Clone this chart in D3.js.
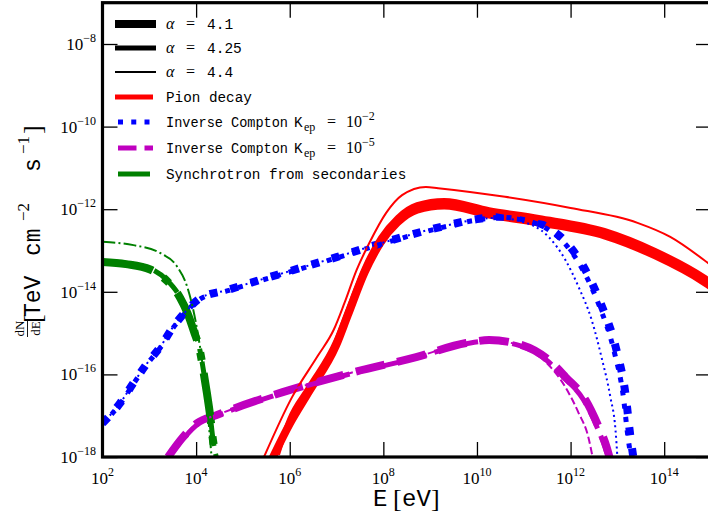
<!DOCTYPE html>
<html>
<head>
<meta charset="utf-8">
<script src="https://cdn.jsdelivr.net/npm/d3@7"></script>
<style>
  body { margin: 0; background: #fff; }
  svg { display: block; }
</style>
</head>
<body>
<svg id="chart" width="708" height="516"></svg>
<script>
// values are [log10 E (eV), log10 dN/dE (TeV cm^-2 s^-1)]

// pion decay
var pion41 = [[5.62,-18.06],[6.0,-17.2],[6.40,-16.44],[6.99,-15.30],[7.24,-14.57],[7.60,-13.53],
  [7.94,-12.81],[8.30,-12.32],[8.72,-12.01],[9.30,-11.91],[10.26,-12.13],[11.32,-12.32],
  [12.74,-12.64],[13.81,-13.12],[14.87,-13.77],[15.1,-13.95]];
var pion425 = [[5.74,-17.94],[6.0,-17.08],[6.40,-16.32],[6.99,-15.18],[7.24,-14.45],[7.60,-13.41],
  [7.94,-12.69],[8.30,-12.20],[8.72,-11.89],[9.30,-11.79],[10.26,-12.01],[11.32,-12.20],
  [12.74,-12.52],[13.81,-13.00],[14.87,-13.65],[15.1,-13.83]];
var pion44 = [[5.45,-18.0],[6.05,-16.55],[6.60,-15.55],[6.94,-14.92],[7.17,-14.27],[7.43,-13.47],
  [7.70,-12.82],[8.06,-12.09],[8.40,-11.66],[8.91,-11.46],[9.17,-11.49],[10.60,-11.70],
  [12.0,-11.97],[13.43,-12.33],[14.13,-12.67],[14.85,-13.23],[15.1,-13.45]];

// inverse Compton, K_ep = 1e-2
var icHi41 = [[2.0,-17.18],[2.38,-16.69],[2.66,-16.21],[2.96,-15.72],[3.23,-15.34],[3.51,-14.85],
  [3.81,-14.44],[4.09,-14.15],[4.66,-13.96],[5.40,-13.70],[6.0,-13.50],[7.0,-13.16],[7.85,-12.86],
  [9.26,-12.42],[10.0,-12.24],[10.50,-12.18],[10.80,-12.19],[11.15,-12.27],[11.60,-12.50],[11.96,-12.87],
  [12.23,-13.30],[12.64,-14.27],[12.98,-15.41],[13.17,-16.45],[13.28,-17.52],[13.34,-18.0]];
var icHi425 = [[2.0,-17.2],[2.38,-16.71],[2.66,-16.23],[2.96,-15.74],[3.23,-15.36],[3.51,-14.87],
  [3.81,-14.46],[4.09,-14.17],[4.66,-13.98],[5.40,-13.72],[6.0,-13.52],[7.0,-13.18],[7.85,-12.88],
  [9.26,-12.44],[10.0,-12.26],[10.48,-12.20],[10.77,-12.21],[11.12,-12.29],[11.57,-12.53],[11.93,-12.90],
  [12.19,-13.33],[12.60,-14.30],[12.93,-15.44],[13.12,-16.48],[13.23,-17.55],[13.29,-18.0]];
var icHi44 = [[2.0,-17.18],[2.38,-16.69],[2.66,-16.21],[2.96,-15.72],[3.23,-15.34],[3.51,-14.85],
  [3.81,-14.44],[4.09,-14.15],[4.66,-13.96],[5.40,-13.70],[6.0,-13.50],[7.0,-13.16],[7.85,-12.86],
  [9.26,-12.42],[10.0,-12.25],[10.45,-12.21],[10.89,-12.28],[11.53,-12.67],[11.89,-13.23],[12.17,-13.88],
  [12.45,-14.68],[12.66,-15.58],[12.85,-16.55],[12.96,-17.35],[13.0,-18.0]];

// inverse Compton, K_ep = 1e-5
var icLo41 = [[3.40,-18.0],[3.72,-17.52],[4.02,-17.18],[4.45,-16.98],[5.85,-16.43],[7.28,-15.97],
  [8.70,-15.58],[9.77,-15.24],[10.26,-15.17],[10.96,-15.29],[11.53,-15.65],[11.89,-16.06],
  [12.32,-16.62],[12.60,-17.27],[12.77,-17.76],[12.83,-18.0]];
var icLo425 = [[3.42,-18.0],[3.74,-17.54],[4.04,-17.2],[4.45,-17.0],[5.85,-16.45],[7.28,-15.99],
  [8.70,-15.60],[9.77,-15.26],[10.26,-15.19],[10.93,-15.31],[11.50,-15.67],[11.86,-16.08],
  [12.29,-16.64],[12.57,-17.29],[12.74,-17.78],[12.80,-18.0]];
var icLo44 = [[3.40,-18.0],[3.72,-17.52],[4.02,-17.18],[4.45,-16.98],[5.85,-16.43],[7.28,-15.97],
  [8.70,-15.58],[9.77,-15.24],[10.26,-15.18],[11.04,-15.34],[11.47,-15.70],[11.89,-16.31],
  [12.17,-16.93],[12.38,-17.52],[12.47,-18.0]];

// synchrotron from secondaries
var syn41 = [[2.0,-13.28],[2.5,-13.33],[3.02,-13.46],[3.38,-13.74],[3.66,-14.15],[3.81,-14.5],
  [3.95,-14.95],[4.09,-15.48],[4.16,-15.95],[4.23,-16.45],[4.30,-17.0],[4.36,-17.59],[4.43,-18.0]];
var syn425 = [[2.0,-13.26],[2.5,-13.31],[3.02,-13.44],[3.38,-13.72],[3.66,-14.13],[3.81,-14.48],
  [3.95,-14.93],[4.09,-15.46],[4.16,-15.93],[4.23,-16.43],[4.30,-16.98],[4.36,-17.57],[4.43,-18.0]];
var syn44 = [[2.0,-12.79],[2.66,-12.87],[3.23,-13.06],[3.6,-13.4],[3.81,-13.88],[3.94,-14.44],
  [4.05,-15.1],[4.13,-15.7],[4.2,-16.4],[4.27,-17.2],[4.33,-18.0]];

var xTickExp = [2, 4, 6, 8, 10, 12, 14];
var yTickExp = [-18, -16, -14, -12, -10, -8];
var alphaLabels = ["4.1", "4.25", "4.4"];

var svg = d3.select("#chart");
// note: "top" is taken by window.top, so use prefixed names
var pLeft = 102.5, pRight = 711, pTop = 2.7, pBottom = 457;

var x = d3.scaleLog().domain([1e2, 1e15]).range([pLeft, pRight]);
var y = d3.scaleLog().domain([1e-18, 1e-7]).range([pBottom, pTop]);

svg.append("clipPath").attr("id", "plotclip")
  .append("rect").attr("x", pLeft).attr("y", pTop)
  .attr("width", pRight - pLeft).attr("height", pBottom - pTop);

var line = d3.line()
  .x(function(d){ return x(Math.pow(10, d[0])); })
  .y(function(d){ return y(Math.pow(10, d[1])); })
  .curve(d3.curveMonotoneX);

// dash patterns scaled with line width, like matplotlib
function dashes(style, w){
  if (style == "dotted") return [w, 1.65*w].join(",");
  if (style == "dashed") return [3.7*w, 1.6*w].join(",");
  if (style == "dashdot") return [6.4*w, 1.6*w, w, 1.6*w].join(",");
  return null;
}

var widths = [8, 5, 2];
var groups = [
  [pion41, icHi41, icLo41, syn41],
  [pion425, icHi425, icLo425, syn425],
  [pion44, icHi44, icLo44, syn44]
];
var colors = ["#ff0000", "#0000ff", "#bf00bf", "#008000"];
var styles = ["solid", "dotted", "dashed", "dashdot"];

var plot = svg.append("g").attr("clip-path", "url(#plotclip)");
groups.forEach(function(set, i){
  set.forEach(function(data, j){
    plot.append("path")
      .datum(data)
      .attr("d", line)
      .attr("fill", "none")
      .attr("stroke", colors[j])
      .attr("stroke-width", widths[i])
      .attr("stroke-dasharray", dashes(styles[j], widths[i]))
      .attr("stroke-linecap", "butt")
      .attr("stroke-linejoin", "round");
  });
});

// ticks, pointing inward on all four sides
var xt = xTickExp.map(function(e){ return Math.pow(10, e); });
var yt = yTickExp.map(function(e){ return Math.pow(10, e); });
var tl = 15;
function styleAxis(g){
  g.select(".domain").remove();
  g.selectAll("line").attr("stroke", "#000").attr("stroke-width", 1.3);
  g.selectAll("text").remove();
}
svg.append("g").attr("transform", "translate(0," + pBottom + ")")
  .call(d3.axisBottom(x).tickValues(xt).tickSize(-tl)).call(styleAxis);
svg.append("g").attr("transform", "translate(0," + pTop + ")")
  .call(d3.axisTop(x).tickValues(xt).tickSize(-tl)).call(styleAxis);
svg.append("g").attr("transform", "translate(" + pLeft + ",0)")
  .call(d3.axisLeft(y).tickValues(yt).tickSize(-tl)).call(styleAxis);
svg.append("g").attr("transform", "translate(" + pRight + ",0)")
  .call(d3.axisRight(y).tickValues(yt).tickSize(-tl)).call(styleAxis);

// spines
svg.append("rect")
  .attr("x", pLeft).attr("y", pTop)
  .attr("width", pRight - pLeft).attr("height", pBottom - pTop)
  .attr("fill", "none").attr("stroke", "#000").attr("stroke-width", 3.2);

// tick labels
var serif = "'Liberation Serif', 'DejaVu Serif', serif";
var mono = "'Liberation Mono', 'DejaVu Sans Mono', monospace";

xTickExp.forEach(function(e){
  var t = svg.append("text")
    .attr("x", x(Math.pow(10, e))).attr("y", 484)
    .attr("text-anchor", "middle")
    .attr("font-family", serif).attr("font-size", 17);
  t.append("tspan").text("10");
  t.append("tspan").attr("dy", -8).attr("font-size", 12).text(String(e));
});
yTickExp.forEach(function(e){
  var t = svg.append("text")
    .attr("x", 96).attr("y", y(Math.pow(10, e)) + 6)
    .attr("text-anchor", "end")
    .attr("font-family", serif).attr("font-size", 17);
  t.append("tspan").text("10");
  t.append("tspan").attr("dy", -8).attr("font-size", 12).text("\u2212" + Math.abs(e));
});

// x axis label
svg.append("text").attr("x", 373).attr("y", 506)
  .attr("font-family", mono).attr("font-size", 24).text("E");
svg.append("text").attr("x", 393).attr("y", 507)
  .attr("font-family", serif).attr("font-size", 26).text("[");
svg.append("text").attr("x", 402).attr("y", 506)
  .attr("font-family", mono).attr("font-size", 24).text("eV");
svg.append("text").attr("x", 431).attr("y", 507)
  .attr("font-family", serif).attr("font-size", 26).text("]");

// y axis label
var yl = svg.append("g").attr("transform", "translate(40,232) rotate(-90)");
yl.append("text").attr("x", -96.5).attr("y", -16).attr("text-anchor", "middle")
  .attr("font-family", serif).attr("font-size", 13).text("dN");
yl.append("line").attr("x1", -105).attr("x2", -88).attr("y1", -12.5).attr("y2", -12.5)
  .attr("stroke", "#000").attr("stroke-width", 0.9);
yl.append("text").attr("x", -96.5).attr("y", 0).attr("text-anchor", "middle")
  .attr("font-family", serif).attr("font-size", 13).text("dE");
yl.append("text").attr("x", -91).attr("y", 1).attr("font-family", serif).attr("font-size", 26).text("[");
yl.append("text").attr("x", -85).attr("y", 0).attr("font-family", mono).attr("font-size", 23).text("TeV");
yl.append("text").attr("x", -24).attr("y", 0).attr("font-family", mono).attr("font-size", 23).text("cm");
yl.append("text").attr("x", 11).attr("y", -11).attr("font-family", serif).attr("font-size", 17).text("\u22122");
yl.append("text").attr("x", 60).attr("y", 0).attr("font-family", mono).attr("font-size", 23).text("s");
yl.append("text").attr("x", 78).attr("y", -11).attr("font-family", serif).attr("font-size", 17).text("\u22121");
yl.append("text").attr("x", 98).attr("y", 1).attr("font-family", serif).attr("font-size", 26).text("]");

// legend
var legendRows = [24, 48, 72, 97, 122, 148, 174];
var lx1 = 115, lx2 = 156, tx = 166;
alphaLabels.forEach(function(a, i){
  var ry = legendRows[i];
  svg.append("line").attr("x1", lx1).attr("x2", lx2).attr("y1", ry).attr("y2", ry)
    .attr("stroke", "#000").attr("stroke-width", widths[i]);
  svg.append("text").attr("x", tx).attr("y", ry + 5)
    .attr("font-family", serif).attr("font-style", "italic").attr("font-size", 16).text("\u03b1");
  svg.append("text").attr("x", 186).attr("y", ry + 5)
    .attr("font-family", serif).attr("font-size", 16).text("=");
  svg.append("text").attr("x", 207).attr("y", ry + 5)
    .attr("font-family", mono).attr("font-size", 14.5).text(a);
});

var compNames = ["Pion decay", "Inverse Compton", "Inverse Compton", "Synchrotron from secondaries"];
var compExp = [null, "\u22122", "\u22125", null];
compNames.forEach(function(name, j){
  var ry = legendRows[j + 3];
  svg.append("line").attr("x1", lx1 + (j == 0 ? 0 : 3)).attr("x2", lx2 - 3).attr("y1", ry).attr("y2", ry)
    .attr("stroke", colors[j]).attr("stroke-width", 5)
    .attr("stroke-dasharray", dashes(styles[j], 5));
  var t = svg.append("text").attr("x", tx).attr("y", ry + 5)
    .attr("font-family", mono).attr("font-size", 14.3).text(name);
  if (compExp[j]) {
    t.attr("textLength", 122).attr("lengthAdjust", "spacingAndGlyphs");
    svg.append("text").attr("x", 294).attr("y", ry + 5)
      .attr("font-family", mono).attr("font-size", 14.3).text("K");
    svg.append("text").attr("x", 304).attr("y", ry + 9)
      .attr("font-family", serif).attr("font-size", 12).text("ep");
    svg.append("text").attr("x", 327).attr("y", ry + 5)
      .attr("font-family", serif).attr("font-size", 16).text("=");
    var t2 = svg.append("text").attr("x", 346).attr("y", ry + 5)
      .attr("font-family", serif).attr("font-size", 16);
    t2.append("tspan").text("10");
    t2.append("tspan").attr("dy", -7).attr("font-size", 12).text(compExp[j]);
  }
});
</script>
</body>
</html>
